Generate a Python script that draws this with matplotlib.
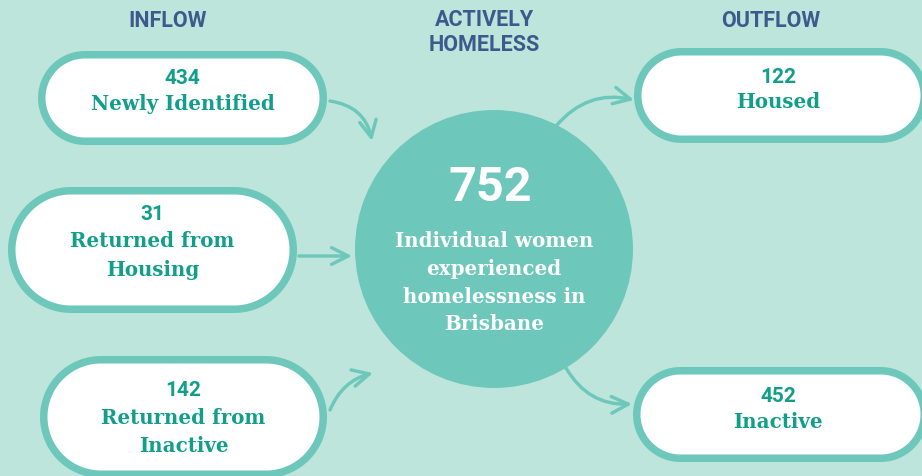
import matplotlib
matplotlib.use("Agg")
import numpy as np
import matplotlib.pyplot as plt
from matplotlib.patches import Polygon, Circle, FancyArrowPatch

# ---- data ----
headers = ["INFLOW", "ACTIVELY\nHOMELESS", "OUTFLOW"]
inflow_values = [434, 31, 142]
inflow_labels = ["Newly Identified", "Returned from\nHousing", "Returned from\nInactive"]
outflow_values = [122, 452]
outflow_labels = ["Housed", "Inactive"]
total_value = 752
total_label = "Individual women\nexperienced\nhomelessness in\nBrisbane"

# ---- style ----
BG = "#BEE5DB"
EDGE = "#6DC8BB"
TEAL = "#119E8A"
HEAD = "#3E5A8C"
W, H = 922, 476
LW_BOX = 7.5 * 72 / 100
LW_ARR = 3.4 * 72 / 100
SERIF = ["DejaVu Serif"]
SANS = ["Roboto", "DejaVu Sans"]
LINE_GAP = 28.5

fig = plt.figure(figsize=(W / 100, H / 100), dpi=100, facecolor=BG)
ax = fig.add_axes([0, 0, 1, 1])
ax.set_xlim(0, W)
ax.set_ylim(H, 0)
ax.axis("off")
ax.set_facecolor(BG)

def pill(x0, y0, x1, y1):
    inset = 3.75
    x0 += inset; y0 += inset; x1 -= inset; y1 -= inset
    r = (y1 - y0) / 2
    cy = (y0 + y1) / 2
    t_r = np.linspace(-np.pi / 2, np.pi / 2, 60)
    t_l = np.linspace(np.pi / 2, 3 * np.pi / 2, 60)
    right = np.column_stack([x1 - r + r * np.cos(t_r), cy + r * np.sin(t_r)])
    left = np.column_stack([x0 + r + r * np.cos(t_l), cy + r * np.sin(t_l)])
    pts = np.vstack([right, left])
    ax.add_patch(Polygon(pts, closed=True, fc="white", ec=EDGE, lw=LW_BOX,
                         zorder=2, joinstyle="round"))

def lines(cx, y_first, text, color, gap=LINE_GAP, size=14.3):
    for i, ln in enumerate(text.split("\n")):
        ax.text(cx, y_first + i * gap, ln, ha="center", va="center",
                color=color, fontsize=size, fontweight="bold", family=SERIF,
                zorder=3)

# box geometry (outer edges, px)
inflow_boxes = [(38, 51, 327, 145), (8, 187, 297, 313), (40, 356, 327, 478)]
inflow_text_y = [(77, 104), (213, 241), (389, 418)]
outflow_boxes = [(634, 48, 928, 143), (633, 367, 928, 462)]
outflow_text_y = [(76, 102), (395, 422)]

def box_text(cx, ny, ly, val, lab):
    ax.text(cx, ny + 1.5, str(val), ha="center", va="center", color=TEAL,
            fontsize=15, fontweight="bold", family=SANS, zorder=3)
    lines(cx, ly, lab, TEAL)

for b, ty, v, l in zip(inflow_boxes, inflow_text_y, inflow_values, inflow_labels):
    pill(*b)
    cx = (b[0] + b[2]) / 2
    box_text(cx, ty[0], ty[1], v, l)

for b, ty, v, l in zip(outflow_boxes, outflow_text_y, outflow_values, outflow_labels):
    pill(*b)
    box_text(778, ty[0], ty[1], v, l)

# central circle
ax.add_patch(Circle((494, 249), 139, fc=EDGE, ec="none", zorder=2))
ax.text(490, 188, str(total_value), ha="center", va="center", color="white",
        fontsize=35, fontweight="bold", family=SANS, zorder=3)
lines(494, 241, total_label, "white", gap=27.8)

# headers
ax.text(168, 21, headers[0], ha="center", va="center", color=HEAD,
        fontsize=15.5, fontweight="bold", family=SANS)
for i, ln in enumerate(headers[1].split("\n")):
    ax.text(484, 20 + i * 25, ln, ha="center", va="center", color=HEAD,
            fontsize=15.5, fontweight="bold", family=SANS)
ax.text(771, 21, headers[2], ha="center", va="center", color=HEAD,
        fontsize=15.5, fontweight="bold", family=SANS)

# arrows
arrows = [((330, 101), (372, 141), -0.35),
          ((299, 256), (352, 256), 0.0),
          ((330, 410), (373, 373), -0.25),
          ((556, 126), (634, 100), -0.3),
          ((566, 368), (632, 404), 0.3)]
for a, b, rad in arrows:
    ax.add_patch(FancyArrowPatch(a, b, connectionstyle=f"arc3,rad={rad}",
                                 arrowstyle="->,head_length=12,head_width=6",
                                 color=EDGE, lw=LW_ARR, zorder=1,
                                 mutation_scale=1, shrinkA=0, shrinkB=0,
                                 capstyle="round", joinstyle="round"))

fig.savefig("out.png", dpi=100, facecolor=BG)
